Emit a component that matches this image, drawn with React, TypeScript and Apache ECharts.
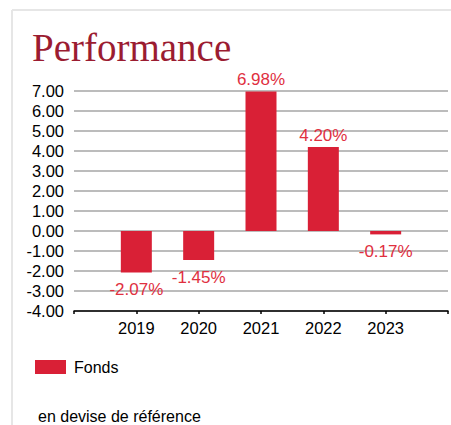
import React, { useEffect, useRef } from "react";
import * as echarts from "echarts";

const years = [2019, 2020, 2021, 2022, 2023];
const fondsValues = [-2.07, -1.45, 6.98, 4.2, -0.17];
const yTicks = { min: -4, max: 7, interval: 1 };
const xRange = { min: 2018, max: 2024 };

const SANS = "Liberation Sans, Arial, sans-serif";

export default function App() {
  const ref = useRef<HTMLDivElement>(null);
  useEffect(() => {
    if (!ref.current) return;
    const chart = echarts.init(ref.current, undefined, { renderer: "svg" });
    const red = "#d92036";
    const labelRed = "#e0303f";
    const data = years.map((y, i) => {
      const v = fondsValues[i];
      return {
        value: [y, v],
        label: {
          show: true,
          position: v >= 0 ? "top" : "bottom",
          distance: v >= 0 ? 3 : 9,
          formatter: v.toFixed(2) + "%",
          color: labelRed,
          fontSize: 17,
          fontFamily: SANS,
        },
      };
    });
    chart.setOption({
      animation: false,
      backgroundColor: "#fff",
      title: {
        text: "Performance",
        left: 27,
        top: 23,
        textStyle: {
          fontFamily: "Liberation Serif, serif",
          fontSize: 39,
          fontWeight: "normal",
          color: "#9b1c31",
        },
      },
      legend: {
        left: 35,
        top: 359,
        padding: 0,
        icon: "rect",
        itemWidth: 31,
        itemHeight: 14,
        itemGap: 8,
        data: ["Fonds"],
        textStyle: {
          fontSize: 16,
          color: "#000",
          fontFamily: SANS,
          padding: [0, 0, 0, 3],
        },
      },
      grid: { left: 74, right: 2, top: 91, bottom: 114 },
      xAxis: {
        type: "value",
        min: xRange.min,
        max: xRange.max,
        interval: 1,
        splitLine: { show: false },
        axisLine: { show: true, onZero: false, lineStyle: { color: "#000", width: 1.5 } },
        axisTick: { show: true, length: 3, lineStyle: { color: "#000", width: 1.5 } },
        axisLabel: {
          color: "#000",
          fontSize: 16.5,
          margin: 8,
          fontFamily: SANS,
          formatter: (v: number) => (years.includes(v) ? String(v) : ""),
        },
      },
      yAxis: {
        type: "value",
        min: yTicks.min,
        max: yTicks.max,
        interval: yTicks.interval,
        axisLine: { show: false },
        axisTick: { show: false },
        splitLine: { show: true, lineStyle: { color: "#a6a6a6", width: 1.5 } },
        axisLabel: {
          color: "#000",
          fontSize: 16.5,
          margin: 10,
          fontFamily: SANS,
          formatter: (v: number) => v.toFixed(2),
        },
      },
      series: [
        {
          name: "Fonds",
          type: "bar",
          barWidth: 31,
          itemStyle: { color: red },
          data,
        },
      ],
      graphic: [
        {
          type: "line",
          shape: { x1: 12, y1: 10, x2: 451, y2: 10 },
          style: { stroke: "#e6e6e6", lineWidth: 2 },
        },
        {
          type: "line",
          shape: { x1: 12, y1: 10, x2: 12, y2: 425 },
          style: { stroke: "#e6e6e6", lineWidth: 2 },
        },
        {
          type: "text",
          left: 38,
          top: 408,
          style: {
            text: "en devise de référence",
            fontSize: 16,
            fill: "#000",
            fontFamily: SANS,
          },
        },
      ],
    });
    return () => chart.dispose();
  }, []);
  return (
    <div style={{ position: "fixed", left: 0, top: 0 }}>
      <div ref={ref} style={{ width: 451, height: 425 }} />
    </div>
  );
}
